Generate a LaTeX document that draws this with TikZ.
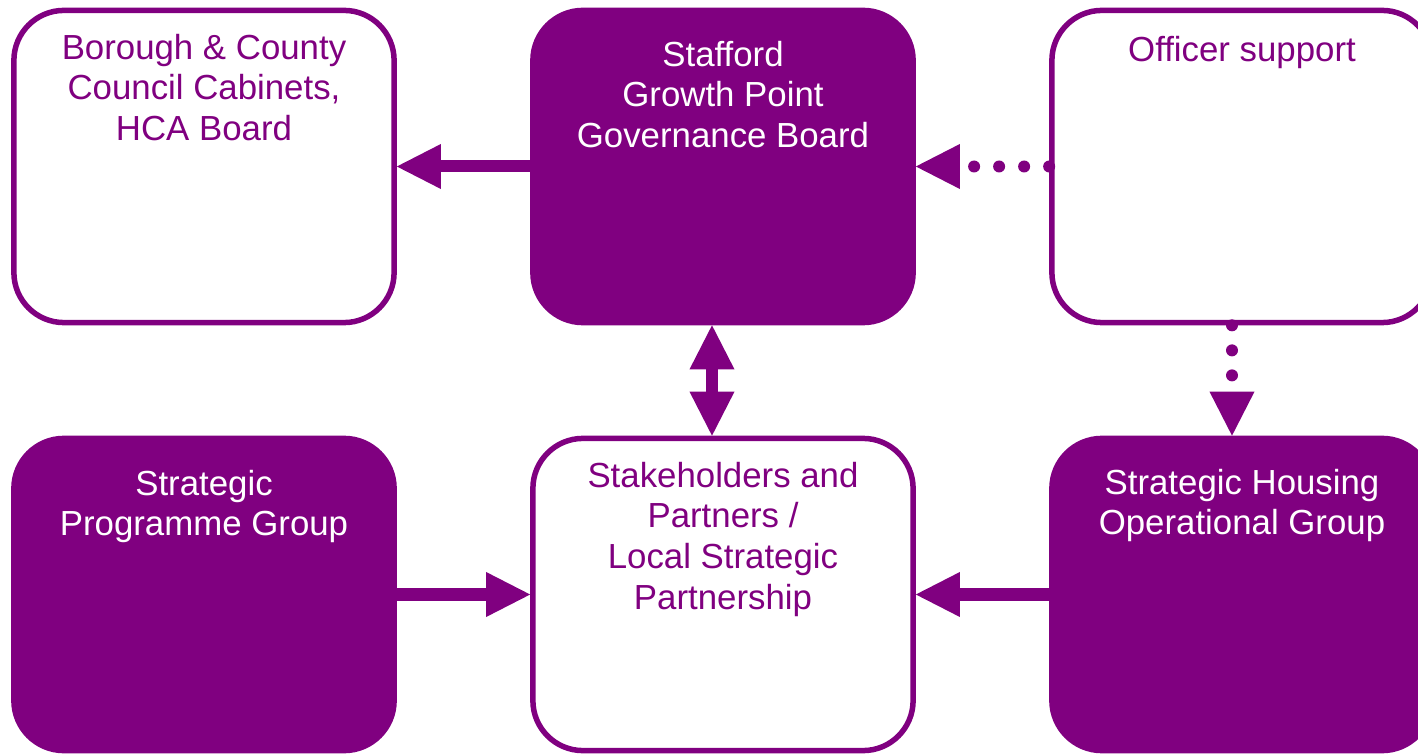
\documentclass[tikz,border=0pt]{standalone}
\usepackage{fontspec}
\setmainfont{Liberation Sans}
\usetikzlibrary{arrows.meta,positioning}
\definecolor{gpurple}{RGB}{128,0,128}

\tikzset{
  box/.style={draw=gpurple, line width=0.055cm, rounded corners=0.5cm,
    minimum width=3.8cm, minimum height=3.12cm, inner sep=0pt},
  openbox/.style={box, fill=white},
  fullbox/.style={box, fill=gpurple},
  boxtext/.style={anchor=north, align=center, inner sep=0pt,
    font=\fontsize{9.9}{11.6}\selectfont},
  bighead/.tip={Triangle[length=0.44cm, width=0.45cm, line width=0pt]},
  fat/.style={gpurple, line width=0.12cm, -bighead},
  fatboth/.style={gpurple, line width=0.12cm, bighead-bighead},
  dots/.style={fat, line cap=round, dash pattern=on 0pt off 0.25cm}
}

\begin{document}
\begin{tikzpicture}[x=0.01cm, y=-0.01cm]
  \useasboundingbox (0,0) rectangle (1418,755);
  \clip (0,0) rectangle (1418,755);

  % boxes
  \node[openbox] (cabinets) at (204,166.5) {};
  \node[fullbox] (board) at (723,166.5) {};
  \node[openbox] (officer) at (1242,166.5) {};
  \node[fullbox] (programme) at (204,594.5) {};
  \node[openbox] (partners) at (723,594.5) {};
  \node[fullbox] (housing) at (1242,594.5) {};

  % texts
  \node[boxtext, text=gpurple] (cabinets-txt) at ([yshift=-0.255cm]cabinets.north)
    {Borough \& County\\Council Cabinets,\\HCA Board};
  \node[boxtext, text=white] (board-txt) at ([yshift=-0.325cm]board.north)
    {Stafford\\Growth Point\\Governance Board};
  \node[boxtext, text=gpurple] (officer-txt) at ([yshift=-0.275cm]officer.north)
    {Officer support};
  \node[boxtext, text=white] (programme-txt) at ([yshift=-0.335cm]programme.north)
    {Strategic\\Programme Group};
  \node[boxtext, text=gpurple] (partners-txt) at ([yshift=-0.255cm]partners.north)
    {Stakeholders and\\Partners /\\Local Strategic\\Partnership};
  \node[boxtext, text=white] (housing-txt) at ([yshift=-0.325cm]housing.north)
    {Strategic Housing\\Operational Group};

  % connectors
  \draw[fat] (board.west) -- (cabinets.east);
  \draw[dots] (officer.west) -- (board.east);
  \draw[fatboth] ([xshift=-0.11cm]board.south) -- ([xshift=-0.11cm]partners.north);
  \draw[dots] ([xshift=-0.1cm]officer.south) -- ([xshift=-0.1cm]housing.north);
  \draw[fat] (programme.east) -- (partners.west);
  \draw[fat] (housing.west) -- (partners.east);
\end{tikzpicture}
\end{document}
